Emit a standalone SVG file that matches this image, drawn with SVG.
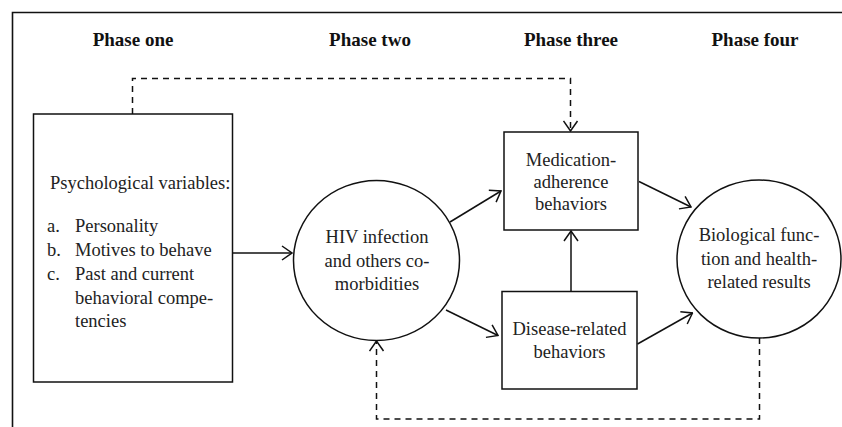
<svg xmlns="http://www.w3.org/2000/svg" width="842" height="427" viewBox="0 0 842 427">
<style>
  .frame{fill:none;stroke:#111;stroke-width:1.6}
  .node{fill:#fff;stroke:#111;stroke-width:1.5}
  .edge{fill:none;stroke:#111;stroke-width:1.5}
  .dash{stroke-dasharray:6 5}
  .t{font-family:"Liberation Serif","Times New Roman",serif;font-size:18.5px;fill:#222}
  .c{text-anchor:middle}
  .h{font-family:"Liberation Serif","Times New Roman",serif;font-size:19px;font-weight:bold;fill:#111;text-anchor:middle}
</style>
<defs>
  <marker id="arr" viewBox="0 0 12 16" refX="11" refY="8" markerWidth="12" markerHeight="16" orient="auto" markerUnits="userSpaceOnUse">
    <path d="M1,1 L11,8 L1,15" fill="none" stroke="#111" stroke-width="1.5" stroke-dasharray="none"/>
  </marker>
</defs>
<rect width="842" height="427" fill="#fff"/>
<path class="frame" d="M12.5,427 V12.5 H842"/>
<g id="headers">
  <text class="h" x="133" y="46">Phase one</text>
  <text class="h" x="370" y="46">Phase two</text>
  <text class="h" x="571" y="46">Phase three</text>
  <text class="h" x="755" y="46">Phase four</text>
</g>
<g id="connectors">
  <path class="edge dash" d="M132.5,114 V78.5 H570.5 V131" marker-end="url(#arr)"/>
  <path class="edge dash" d="M759.5,338 V419 H376.5 V341" marker-end="url(#arr)"/>
  <path class="edge" d="M233,253 H292" marker-end="url(#arr)"/>
  <path class="edge" d="M450,222 L501,191" marker-end="url(#arr)"/>
  <path class="edge" d="M446,310 L498,335.5" marker-end="url(#arr)"/>
  <path class="edge" d="M639,181.5 L691,207" marker-end="url(#arr)"/>
  <path class="edge" d="M637.5,344 L692.5,313" marker-end="url(#arr)"/>
  <path class="edge" d="M571,291 V231" marker-end="url(#arr)"/>
</g>
<g id="psych">
  <rect class="node" x="33.5" y="114" width="199" height="268"/>
  <text class="t" x="50" y="189">Psychological variables:</text>
  <text class="t" x="47" y="232">a.</text><text class="t" x="75" y="232">Personality</text>
  <text class="t" x="47" y="256">b.</text><text class="t" x="75" y="256">Motives to behave</text>
  <text class="t" x="47" y="280">c.</text><text class="t" x="75" y="280">Past and current</text>
  <text class="t" x="75" y="304">behavioral compe-</text>
  <text class="t" x="75" y="327">tencies</text>
</g>
<g id="hiv">
  <ellipse class="node" cx="376.5" cy="260.5" rx="83" ry="80"/>
  <text class="t c" x="377" y="243">HIV infection</text>
  <text class="t c" x="377" y="267">and others co-</text>
  <text class="t c" x="377" y="290">morbidities</text>
</g>
<g id="medication">
  <rect class="node" x="504" y="132" width="134" height="98"/>
  <text class="t c" x="571" y="166">Medication-</text>
  <text class="t c" x="571" y="188">adherence</text>
  <text class="t c" x="571" y="210">behaviors</text>
</g>
<g id="disease">
  <rect class="node" x="502" y="291.5" width="135" height="97.5"/>
  <text class="t c" x="569.5" y="335">Disease-related</text>
  <text class="t c" x="569.5" y="358">behaviors</text>
</g>
<g id="biological">
  <ellipse class="node" cx="759" cy="259" rx="82" ry="79"/>
  <text class="t c" x="759" y="241">Biological func-</text>
  <text class="t c" x="759" y="265">tion and health-</text>
  <text class="t c" x="759" y="288">related results</text>
</g>
</svg>
